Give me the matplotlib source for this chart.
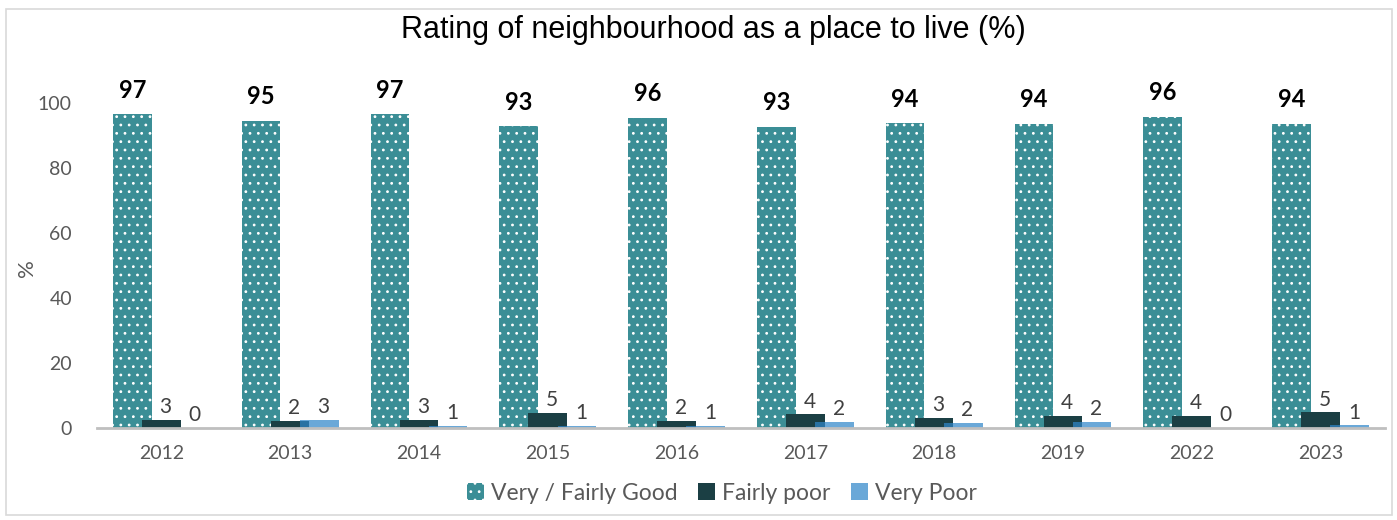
import matplotlib
matplotlib.use("Agg")
import matplotlib.pyplot as plt
from matplotlib.patches import Rectangle, Patch
import numpy as np

years = ["2012", "2013", "2014", "2015", "2016", "2017", "2018", "2019", "2022", "2023"]
very_fairly_good = [96.6, 94.6, 96.6, 92.9, 95.5, 92.7, 93.8, 93.6, 95.7, 93.6]
fairly_poor = [2.6, 2.1, 2.6, 4.7, 2.1, 4.2, 3.2, 3.8, 3.8, 4.8]
very_poor = [0.0, 2.6, 0.6, 0.7, 0.7, 1.9, 1.5, 1.8, 0.0, 0.8]

series_names = ["Very / Fairly Good", "Fairly poor", "Very Poor"]
col_good = "#3B8E96"
col_fpoor = "#1B3F44"
col_vpoor = "#3187C9"

plt.rcParams["font.family"] = ["Lato", "DejaVu Sans"]
plt.rcParams["hatch.linewidth"] = 0.8

fig = plt.figure(figsize=(13.97, 5.2), dpi=100)
ax = fig.add_axes([0.0694, 0.1769, 0.922, 0.6875])

x = np.arange(len(years))
w = 0.30
off = 0.226

b1 = ax.bar(x - off, very_fairly_good, w, color=col_good, hatch="..",
            edgecolor="white", linewidth=0, zorder=2)
b2 = ax.bar(x, fairly_poor, w, color=col_fpoor, linewidth=0, zorder=3)
b3 = ax.bar(x + off, very_poor, w, color=col_vpoor, alpha=0.72, linewidth=0, zorder=4)

for xi, v in zip(x - off, very_fairly_good):
    ax.annotate(f"{v:.0f}", (xi, v), xytext=(0, 9), textcoords="offset points",
                ha="center", va="bottom", fontsize=17, fontweight="bold", color="black")
for xs, vals in ((x, fairly_poor), (x + off, very_poor)):
    for xi, v in zip(xs, vals):
        ax.annotate(f"{v:.0f}", (xi, v), xytext=(3, 2), textcoords="offset points",
                    ha="center", va="bottom", fontsize=15, color="#404040")

ax.set_xlim(-0.5, len(years) - 0.5)
ax.set_ylim(0, 110)
ax.set_yticks([0, 20, 40, 60, 80, 100])
ax.set_xticks(x)
ax.set_xticklabels(years)
ax.tick_params(axis="y", length=0, pad=18, labelsize=14, labelcolor="#595959")
ax.tick_params(axis="x", length=0, pad=12, labelsize=14, labelcolor="#595959")
for s in ("top", "right", "left"):
    ax.spines[s].set_visible(False)
ax.spines["bottom"].set_color("#BFBFBF")
ax.spines["bottom"].set_linewidth(2)
ax.spines["bottom"].set_zorder(5)

fig.text(27 / 1397, 1 - 268 / 520, "%", rotation=90, ha="center", va="center",
         fontsize=16, color="#595959")
fig.text(713 / 1397, 1 - 30 / 520, "Rating of neighbourhood as a place to live (%)",
         ha="center", va="center", fontsize=22, color="black",
         family=["Liberation Sans", "DejaVu Sans"])

handles = [Patch(facecolor=col_good, hatch="..", edgecolor="white", linewidth=0),
           Patch(facecolor=col_fpoor, linewidth=0),
           Patch(facecolor=col_vpoor, alpha=0.72, linewidth=0)]
fig.legend(handles, series_names, loc="center", bbox_to_anchor=(722 / 1397, 1 - 493 / 520),
           ncol=3, frameon=False, fontsize=16.5, labelcolor="#595959",
           handlelength=0.75, handleheight=0.75, handletextpad=0.3, columnspacing=0.9)

fig.patches.append(Rectangle((6 / 1397, 5 / 520), 1386 / 1397, 506 / 520,
                             transform=fig.transFigure, fill=False,
                             edgecolor="#D9D9D9", linewidth=1.2))

fig.savefig("out.png", dpi=100)
